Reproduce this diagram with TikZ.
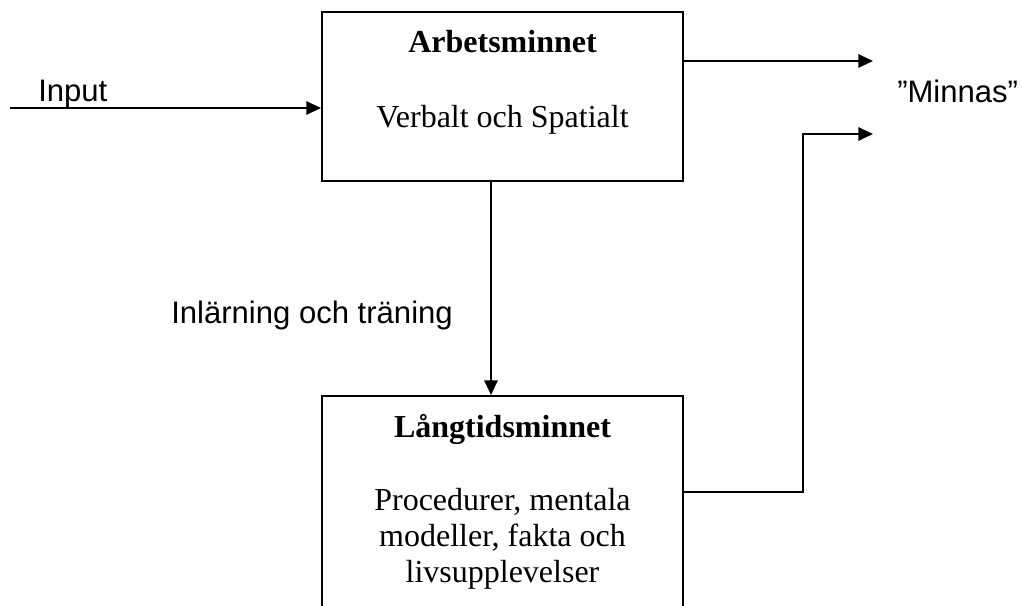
\documentclass[tikz,border=0pt]{standalone}
\usepackage{fontspec}
\setmainfont{Liberation Serif}
\newfontfamily\arialfont{Liberation Sans}
\usetikzlibrary{arrows.meta}
\tikzset{
  px/.style={x=0.75pt,y=-0.75pt},
  boxstyle/.style={draw,line width=1.5pt,inner sep=0pt},
  conn/.style={line width=1.5pt,-{Triangle[length=11pt,width=10pt]}},
  serif/.style={font=\fontsize{24}{29}\selectfont,anchor=base,inner sep=0pt},
  serifbold/.style={serif,font=\bfseries\fontsize{24}{29}\selectfont},
  sans/.style={font=\arialfont\fontsize{23.3}{28}\selectfont,anchor=base west,inner sep=0pt},
}
\begin{document}
\begin{tikzpicture}[px]
\useasboundingbox (0,0) rectangle (1022,606);
\clip (0,0) rectangle (1022,606);
% boxes
\node[boxstyle,minimum width=270.75pt,minimum height=126.75pt] (arb) at (502.5,96.5) {};
\node[boxstyle,minimum width=270.75pt,minimum height=180pt] (lang) at (502.5,516) {};
% texts in boxes
\node[serifbold] (arbt) at (502.5,53) {Arbetsminnet};
\node[serif] (arbs) at (502.5,128) {Verbalt och Spatialt};
\node[serifbold] (langt) at (502.5,437) {Långtidsminnet};
\node[serif] (l1) at (502.5,510) {Procedurer, mentala};
\node[serif] (l2) at (502.5,546) {modeller, fakta och};
\node[serif] (l3) at (502.5,582) {livsupplevelser};
% labels
\node[sans] (inp) at (38,102) {Input};
\node[sans] (min) at (897,103) {”Minnas”};
\node[sans] (inl) at (171,324) {Inlärning och träning};
% connector coordinates
\coordinate (instart) at (10,108);
\coordinate (out1) at (873,61);
\coordinate (out2) at (873,134);
\coordinate (bend) at (803,492);
\coordinate (vx) at (491,0);
% connectors
\draw[conn] (instart) -- (instart -| arb.west);
\draw[conn] (arb.east |- out1) -- (out1);
\draw[conn] (arb.south -| vx) -- (lang.north -| vx);
\draw[conn] (lang.east |- bend) -- (bend) |- (out2);
\end{tikzpicture}
\end{document}
